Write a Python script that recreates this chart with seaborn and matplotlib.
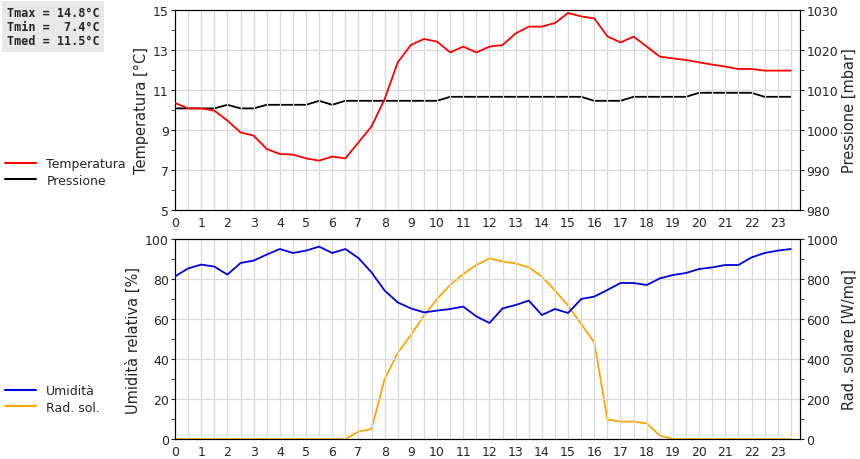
import numpy as np
import pandas as pd
import matplotlib
matplotlib.use("Agg")
import matplotlib.pyplot as plt
from matplotlib.ticker import MultipleLocator
from matplotlib.lines import Line2D
import seaborn as sns

sns.set_style("white")
plt.rcParams["font.family"] = "DejaVu Sans"

# half-hourly readings, 0.0 .. 23.5
hours = np.arange(48) * 0.5
temperatura = [10.35, 10.08, 10.08, 9.97, 9.47, 8.88, 8.72, 8.05, 7.8, 7.77, 7.58, 7.47,
               7.67, 7.58, 8.38, 9.18, 10.55, 12.38, 13.25, 13.55, 13.42, 12.88, 13.17, 12.88,
               13.17, 13.25, 13.83, 14.17, 14.17, 14.35, 14.85, 14.68, 14.58, 13.68, 13.38, 13.67,
               13.17, 12.67, 12.58, 12.5, 12.38, 12.27, 12.17, 12.05, 12.05, 11.97, 11.97, 11.97]
pressione = [1005.4, 1005.4, 1005.4, 1005.4, 1006.3, 1005.4, 1005.4, 1006.3, 1006.3, 1006.3, 1006.3, 1007.3,
             1006.3, 1007.3, 1007.3, 1007.3, 1007.3, 1007.3, 1007.3, 1007.3, 1007.3, 1008.3, 1008.3, 1008.3,
             1008.3, 1008.3, 1008.3, 1008.3, 1008.3, 1008.3, 1008.3, 1008.3, 1007.3, 1007.3, 1007.3, 1008.3,
             1008.3, 1008.3, 1008.3, 1008.3, 1009.3, 1009.3, 1009.3, 1009.3, 1009.3, 1008.3, 1008.3, 1008.3]
umidita = [81.3, 85.3, 87.2, 86.2, 82.2, 88, 89.2, 92.2, 95, 93, 94.2, 96.2,
           93, 95, 90.5, 83.3, 74.2, 68.3, 65.3, 63.3, 64.2, 65, 66.2, 61.3,
           58, 65.3, 67, 69.2, 62, 65, 63, 70, 71.2, 74.5, 78, 78,
           77, 80.3, 82, 83, 85, 85.8, 87, 87, 90.8, 93, 94.2, 95]
rad_sol = [0, 0, 0, 0, 0, 0, 0, 0, 0, 0, 0, 0,
           0, 0, 37, 50, 300, 430, 520, 617, 700, 770, 825, 870,
           903, 887, 878, 858, 812, 742, 667, 575, 483, 97, 87, 87,
           78, 17, 0, 0, 0, 0, 0, 0, 0, 0, 0, 0]
temp_ticks = [5, 7, 9, 11, 13, 15]
stats_text = "Tmax = 14.8°C\nTmin =  7.4°C\nTmed = 11.5°C"

df = pd.DataFrame({"ora": hours, "temp": temperatura, "press": pressione,
                   "um": umidita, "rad": rad_sol})

fig = plt.figure(figsize=(8.6, 4.6), dpi=100)
ax1 = fig.add_axes([175 / 860, 1 - 211 / 460, 625 / 860, 200 / 460])
ax3 = fig.add_axes([175 / 860, 1 - 440 / 460, 625 / 860, 200 / 460])
ax2 = ax1.twinx()
ax4 = ax3.twinx()

sns.lineplot(data=df, x="ora", y="temp", ax=ax1, color="red", lw=1.3, zorder=3)
sns.lineplot(data=df, x="ora", y="press", ax=ax2, color="black", lw=1.3)
sns.lineplot(data=df, x="ora", y="um", ax=ax3, color="#0000e0", lw=1.3, zorder=3)
sns.lineplot(data=df, x="ora", y="rad", ax=ax4, color="orange", lw=1.3)

def style(ax, ymin, ymax, major, minor, label):
    ax.set_xlim(0, 23.85)
    ax.set_ylim(ymin, ymax)
    ax.xaxis.set_major_locator(MultipleLocator(1))
    ax.xaxis.set_minor_locator(MultipleLocator(0.5))
    ax.yaxis.set_major_locator(MultipleLocator(major))
    ax.yaxis.set_minor_locator(MultipleLocator(minor))
    ax.grid(True, which="both", axis="x", color="#d8d8d8", lw=0.9)
    ax.grid(True, which="major", axis="y", color="#d8d8d8", lw=0.9)
    ax.tick_params(which="both", direction="out", length=3, pad=1.5, labelsize=9)
    ax.set_xlabel("")
    ax.set_ylabel(label, fontsize=10.5, labelpad=3)
    for s in ax.spines.values():
        s.set_color("black")

style(ax1, 5, 15, 2, 1, "Temperatura [°C]")
ax1.set_yticks(temp_ticks)
style(ax3, 0, 100, 20, 10, "Umidità relativa [%]")
for ax, lo, hi, mj, mn, lab in [(ax2, 980, 1030, 10, 5, "Pressione [mbar]"),
                                (ax4, 0, 1000, 200, 100, "Rad. solare [W/mq]")]:
    ax.set_ylim(lo, hi)
    ax.yaxis.set_major_locator(MultipleLocator(mj))
    ax.yaxis.set_minor_locator(MultipleLocator(mn))
    ax.tick_params(which="both", direction="out", length=3, pad=1.5, labelsize=9)
    ax.set_ylabel(lab, fontsize=10.5, labelpad=3)
    ax.grid(False)
ax1.set_zorder(ax2.get_zorder() + 1)
ax1.patch.set_visible(False)
ax3.set_zorder(ax4.get_zorder() + 1)
ax3.patch.set_visible(False)

fig.legend([Line2D([], [], color="red"), Line2D([], [], color="black")],
           ["Temperatura", "Pressione"], loc="upper left", bbox_to_anchor=(0, 1 - 153 / 460),
           frameon=False, fontsize=9, handlelength=2.5, borderaxespad=0, labelspacing=0.3)
fig.legend([Line2D([], [], color="#0000e0"), Line2D([], [], color="orange")],
           ["Umidità", "Rad. sol."], loc="upper left", bbox_to_anchor=(0, 1 - 380 / 460),
           frameon=False, fontsize=9, handlelength=2.5, borderaxespad=0, labelspacing=0.3)

fig.text(0.008, 0.985, stats_text, family="DejaVu Sans Mono", fontsize=8.5, fontweight="bold",
         va="top", ha="left", linespacing=1.1,
         bbox=dict(facecolor="#e8e8e8", edgecolor="none", boxstyle="square,pad=0.4"))

fig.savefig("out.png", dpi=100)
